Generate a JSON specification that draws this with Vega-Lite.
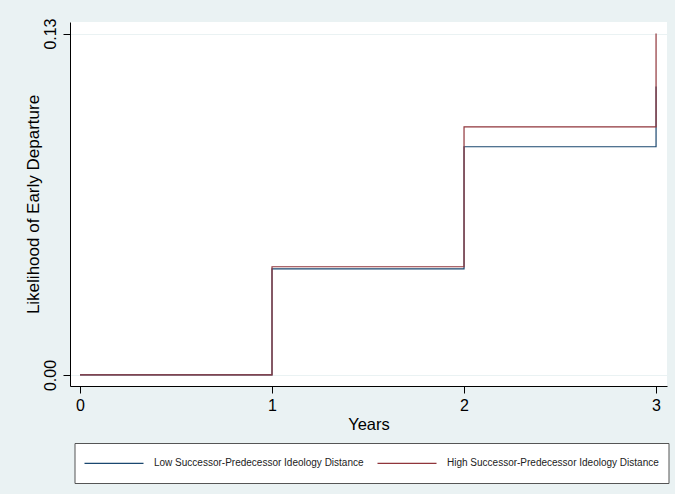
{
  "$schema": "https://vega.github.io/schema/vega-lite/v6.json",
  "width": 597,
  "height": 364,
  "autosize": {"type": "none"},
  "padding": {"left": 70, "top": 22, "right": 8, "bottom": 108},
  "background": "#eaf2f3",
  "config": {
    "view": {"fill": "white", "stroke": null},
    "font": "Liberation Sans"
  },
  "data": {
    "values": [
      {"years": 0, "p": 0, "group": "Low Successor-Predecessor Ideology Distance"},
      {"years": 1, "p": 0.0404, "group": "Low Successor-Predecessor Ideology Distance"},
      {"years": 2, "p": 0.0869, "group": "Low Successor-Predecessor Ideology Distance"},
      {"years": 3, "p": 0.1098, "group": "Low Successor-Predecessor Ideology Distance"},
      {"years": 0, "p": 0, "group": "High Successor-Predecessor Ideology Distance"},
      {"years": 1, "p": 0.0412, "group": "High Successor-Predecessor Ideology Distance"},
      {"years": 2, "p": 0.0945, "group": "High Successor-Predecessor Ideology Distance"},
      {"years": 3, "p": 0.13, "group": "High Successor-Predecessor Ideology Distance"}
    ]
  },
  "mark": {"type": "line", "interpolate": "step-after", "strokeWidth": 1.2},
  "encoding": {
    "x": {
      "field": "years",
      "type": "quantitative",
      "scale": {"domain": [-0.052, 3.057], "nice": false, "zero": false},
      "axis": {
        "values": [0, 1, 2, 3],
        "format": "d",
        "title": "Years",
        "grid": false,
        "tickSize": 7,
        "tickColor": "black",
        "domainColor": "black",
        "labelColor": "black",
        "labelFontSize": 16,
        "labelPadding": 4,
        "titleFontSize": 16.5,
        "titleFontWeight": "normal",
        "titleColor": "black",
        "titlePadding": 3
      }
    },
    "y": {
      "field": "p",
      "type": "quantitative",
      "scale": {"domain": [-0.0042, 0.1344], "nice": false, "zero": false},
      "axis": {
        "values": [0, 0.13],
        "format": ".2f",
        "title": "Likelihood of Early Departure",
        "grid": true,
        "gridColor": "#eaf2f3",
        "tickSize": 7,
        "tickColor": "black",
        "domainColor": "black",
        "labelColor": "black",
        "labelFontSize": 16,
        "labelAngle": -90,
        "labelAlign": "center",
        "labelBaseline": "bottom",
        "labelPadding": 5,
        "titleFontSize": 17,
        "titleFontWeight": "normal",
        "titleColor": "black",
        "titlePadding": 0
      }
    },
    "color": {
      "field": "group",
      "type": "nominal",
      "sort": null,
      "scale": {
        "domain": ["Low Successor-Predecessor Ideology Distance", "High Successor-Predecessor Ideology Distance"],
        "range": ["#1a476f", "#90353b"]
      },
      "legend": {
        "title": null,
        "orient": "none",
        "legendX": 4.5,
        "legendY": 421,
        "direction": "horizontal",
        "symbolType": "M-1,-0.8M-1,0.8M-1,0H4.9",
        "symbolSize": 400,
        "symbolStrokeWidth": 1.2,
        "labelFontSize": 10,
        "labelColor": "#222222",
        "labelOffset": 48.5,
        "columnPadding": 10,
        "padding": 9,
        "fillColor": "white",
        "strokeColor": "#555555",
        "labelLimit": 400
      }
    }
  }
}
